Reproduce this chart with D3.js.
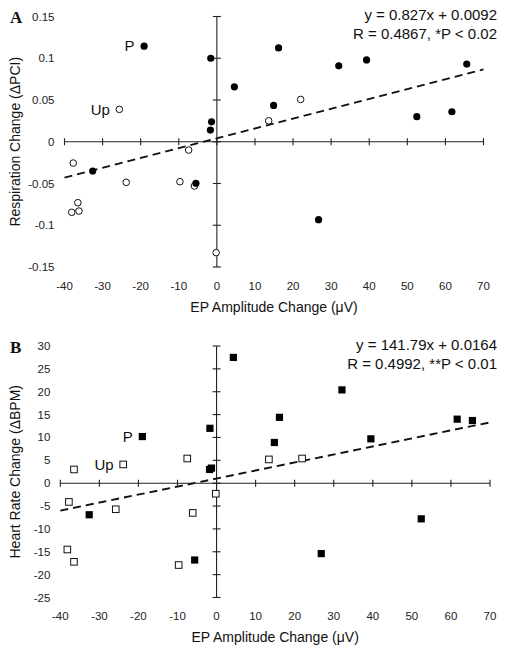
<!DOCTYPE html>
<html><head><meta charset="utf-8">
<script src="https://cdn.jsdelivr.net/npm/d3@7"></script>
<style>body{margin:0;background:#fff}svg{display:block}</style>
</head><body>
<script>
// ---- DATA ----
const xTicks = [-40,-30,-20,-10,0,10,20,30,40,50,60,70];
const xTickLabels = ["-40","-30","-20","-10","0","10","20","30","40","50","60","70"];
const yTicksA = [-0.15,-0.1,-0.05,0,0.05,0.1,0.15];
const yTickLabelsA = ["-0.15","-0.1","-0.05","0","0.05","0.1","0.15"];
const yTicksB = [-25,-20,-15,-10,-5,0,5,10,15,20,25,30];
const yTickLabelsB = ["-25","-20","-15","-10","-5","0","5","10","15","20","25","30"];

// Panel A: respiration change vs EP amplitude change
const aFilledX = [-19.1,-1.6,4.6,-1.4,-1.7,16.2,32.0,39.3,65.6,14.9,52.5,61.7,-32.6,-5.5,26.7];
const aFilledY = [0.1145,0.100,0.0658,0.0239,0.014,0.1124,0.0909,0.098,0.093,0.0435,0.030,0.0359,-0.035,-0.0498,-0.0933];
const aOpenX = [-25.6,-7.4,22.0,13.6,-37.7,-23.8,-9.7,-5.9,-36.5,-38.1,-36.2,-0.2];
const aOpenY = [0.0388,-0.0099,0.0507,0.0251,-0.0255,-0.0486,-0.0478,-0.053,-0.073,-0.0845,-0.083,-0.1328];
const aTrendX = [-40,70];
const aTrendY = [-0.043,0.0867];
const aEquation = ["y = 0.827x + 0.0092","R = 0.4867, *P < 0.02"];

// Panel B: heart rate change vs EP amplitude change
const bFilledX = [4.3,-19.0,-1.7,-1.3,-1.8,16.1,14.8,32.1,39.5,61.6,65.5,-32.6,-5.6,52.4,26.8];
const bFilledY = [27.5,10.2,12.0,3.3,3.0,14.4,8.9,20.4,9.7,14.0,13.7,-6.9,-16.8,-7.8,-15.4];
const bOpenX = [-23.9,-36.5,-7.5,13.4,21.9,-0.2,-37.8,-25.8,-6.1,-38.2,-36.5,-9.7];
const bOpenY = [4.1,3.0,5.4,5.2,5.4,-2.3,-4.1,-5.7,-6.5,-14.5,-17.2,-17.9];
const bTrendX = [-40,70];
const bTrendY = [-6.0,13.3];
const bEquation = ["y = 141.79x + 0.0164","R = 0.4992, **P < 0.01"];

// point labels: [x, y, text] per panel
const aLabels = [[-19.1,0.1145,"P"],[-25.6,0.0388,"Up"]];
const bLabels = [[-19.0,10.2,"P"],[-23.9,4.1,"Up"]];

const xTitle = "EP Amplitude Change (μV)";

// ---- DRAW ----
const W = 510, H = 654;
const svg = d3.select("body").append("svg").attr("width",W).attr("height",H);
const FONT = "'Liberation Sans', Arial, Helvetica, sans-serif";

function panel(cfg){
  const g = svg.append("g");
  const x = d3.scaleLinear().domain([-40,70]).range(cfg.xr);
  const y = d3.scaleLinear().domain(cfg.yd).range(cfg.yr);
  const x0 = x(0), y0 = y(0);
  const axisCol = "#222";
  // x axis line along y=0
  g.append("line").attr("x1",x(-40)).attr("x2",x(70)).attr("y1",y0).attr("y2",y0)
    .attr("stroke",axisCol).attr("stroke-width",1.1);
  g.selectAll(".xt").data(xTicks).enter().append("line")
    .attr("x1",d=>x(d)).attr("x2",d=>x(d)).attr("y1",y0-3.5).attr("y2",y0+3.5)
    .attr("stroke",axisCol).attr("stroke-width",1.1);
  // y axis line along x=0
  g.append("line").attr("x1",x0).attr("x2",x0).attr("y1",y(cfg.yd[0])).attr("y2",y(cfg.yd[1]))
    .attr("stroke",axisCol).attr("stroke-width",1.1);
  g.selectAll(".yt").data(cfg.yTicks).enter().append("line")
    .attr("x1",x0-4).attr("x2",x0+4).attr("y1",d=>y(d)).attr("y2",d=>y(d))
    .attr("stroke",axisCol).attr("stroke-width",1.1);
  // tick labels
  g.selectAll(".xl").data(xTicks).enter().append("text")
    .attr("x",d=>x(d)).attr("y",y(cfg.yd[0])+cfg.xlOff)
    .attr("text-anchor","middle").attr("font-family",FONT).attr("font-size",11.5).attr("fill","#222")
    .text((d,i)=>xTickLabels[i]);
  g.selectAll(".yl").data(cfg.yTicks).enter().append("text")
    .attr("x",x(-40)-10).attr("y",d=>y(d)+4)
    .attr("text-anchor","end").attr("font-family",FONT).attr("font-size",11.5).attr("fill","#222")
    .text((d,i)=>cfg.yTickLabels[i]);
  // titles
  g.append("text").attr("x",(cfg.xr[0]+cfg.xr[1])/2).attr("y",y(cfg.yd[0])+cfg.xtOff)
    .attr("text-anchor","middle").attr("font-family",FONT).attr("font-size",14).attr("fill","#111")
    .text(xTitle);
  g.append("text").attr("transform",`translate(20,${(cfg.yr[0]+cfg.yr[1])/2}) rotate(-90)`)
    .attr("text-anchor","middle").attr("font-family",FONT).attr("font-size",14).attr("fill","#111")
    .text(cfg.yTitle);
  // panel letter
  g.append("text").attr("x",10).attr("y",cfg.letterY).attr("font-family","'Liberation Serif', 'Times New Roman', serif")
    .attr("font-weight","bold").attr("font-size",17).attr("fill","#111").text(cfg.letter);
  // equation
  cfg.eq.forEach((t,i)=>{
    g.append("text").attr("x",497).attr("y",cfg.eqY + i*19.5).attr("text-anchor","end")
      .attr("font-family",FONT).attr("font-size",15).attr("fill","#111").text(t);
  });
  // trend line
  const line = d3.line().x(d=>x(d[0])).y(d=>y(d[1]));
  g.append("path").datum(cfg.tx.map((v,i)=>[v,cfg.ty[i]])).attr("d",line)
    .attr("fill","none").attr("stroke","#111").attr("stroke-width",1.9).attr("stroke-dasharray","8,5");
  // points
  const open = cfg.ox.map((v,i)=>[v,cfg.oy[i]]);
  const filled = cfg.fx.map((v,i)=>[v,cfg.fy[i]]);
  if(cfg.shape==="circle"){
    g.selectAll(".o").data(open).enter().append("circle")
      .attr("cx",d=>x(d[0])).attr("cy",d=>y(d[1])).attr("r",3.3)
      .attr("fill","#fff").attr("stroke","#111").attr("stroke-width",1);
    g.selectAll(".f").data(filled).enter().append("circle")
      .attr("cx",d=>x(d[0])).attr("cy",d=>y(d[1])).attr("r",3.6).attr("fill","#000");
  } else {
    g.selectAll(".o").data(open).enter().append("rect")
      .attr("x",d=>x(d[0])-3.3).attr("y",d=>y(d[1])-3.3).attr("width",6.6).attr("height",6.6)
      .attr("fill","#fff").attr("stroke","#111").attr("stroke-width",1);
    g.selectAll(".f").data(filled).enter().append("rect")
      .attr("x",d=>x(d[0])-3.6).attr("y",d=>y(d[1])-3.6).attr("width",7.2).attr("height",7.2)
      .attr("fill","#000");
  }
  // point labels
  g.selectAll(".pl").data(cfg.labels).enter().append("text")
    .attr("x",d=>x(d[0])-9.5).attr("y",d=>y(d[1])+5.3).attr("text-anchor","end")
    .attr("font-family",FONT).attr("font-size",15).attr("fill","#111").text(d=>d[2]);
}

panel({xr:[64.5,483.5], yd:[-0.15,0.15], yr:[267,16.5], yTicks:yTicksA, yTickLabels:yTickLabelsA,
  xlOff:23, xtOff:45, yTitle:"Respiration Change (ΔPCI)", letter:"A", letterY:23,
  eq:aEquation, eqY:19.5, tx:aTrendX, ty:aTrendY, fx:aFilledX, fy:aFilledY, ox:aOpenX, oy:aOpenY,
  shape:"circle", labels:aLabels});
panel({xr:[60.3,490], yd:[-25,30], yr:[597.5,346], yTicks:yTicksB, yTickLabels:yTickLabelsB,
  xlOff:22.5, xtOff:44, yTitle:"Heart Rate Change (ΔBPM)", letter:"B", letterY:353,
  eq:bEquation, eqY:349.5, tx:bTrendX, ty:bTrendY, fx:bFilledX, fy:bFilledY, ox:bOpenX, oy:bOpenY,
  shape:"square", labels:bLabels});
</script>
</body></html>
